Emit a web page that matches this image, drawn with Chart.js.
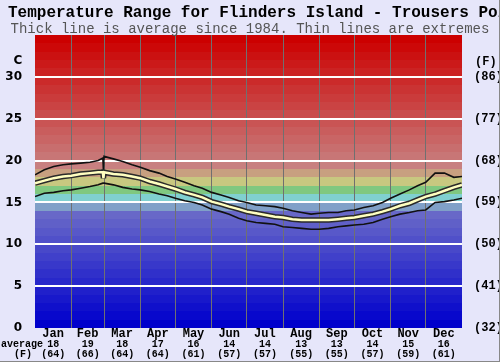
<!DOCTYPE html>
<html>
<head>
<meta charset="utf-8">
<script src="https://cdn.jsdelivr.net/npm/chart.js@4.4.1/dist/chart.umd.min.js"></script>
<style>
  html, body { margin: 0; padding: 0; background: #e6e6fa; }
  #wrap { position: relative; width: 500px; height: 362px; overflow: hidden; background: #e6e6fa;
          box-sizing: border-box; border-right: 1px solid #888; border-bottom: 1px solid #888; }
  #wrap canvas { position: absolute; left: 0; top: 0; }
  .title { position: absolute; left: 8px; top: 4px; line-height: 16px; white-space: nowrap;
           font: bold 16px "Liberation Mono", monospace; color: #000; }
  .sub { position: absolute; left: 0; width: 500px; top: 21px; line-height: 14px; text-align: center;
         white-space: nowrap; font: 14px "Liberation Mono", monospace; color: #555; }
</style>
</head>
<body>
<div id="wrap">
  <canvas id="chart" width="500" height="362"></canvas>
  <div class="title">Temperature Range for Flinders Island - Trousers Point</div>
  <div class="sub">Thick line is average since 1984. Thin lines are extremes</div>
</div>
<script>
// day of year for each reading
const days = [0, 8, 16, 24, 31, 39, 47, 54, 58, 58.5, 59, 67, 75, 83, 90, 98, 106, 113, 120, 128,
  136, 143, 151, 159, 166, 174, 181, 189, 197, 205, 212, 220, 228, 236, 243, 251, 259, 266, 273,
  281, 289, 297, 304, 312, 320, 327, 334, 342, 350, 358, 365];

const maxTemp = [18.3, 18.9, 19.3, 19.5, 19.6, 19.7, 19.8, 20.0, 20.3, 18.8, 20.5, 20.2, 19.9, 19.5,
  19.2, 18.8, 18.5, 18.1, 17.8, 17.4, 17.0, 16.7, 16.2, 15.9, 15.6, 15.2, 15.0, 14.7, 14.6, 14.5,
  14.3, 14.0, 13.8, 13.6, 13.7, 13.8, 13.8, 14.0, 14.1, 14.4, 14.6, 15.0, 15.5, 16.0, 16.5, 17.0,
  17.4, 18.5, 18.5, 18.0, 18.1];

const avgTemp = [17.3, 17.6, 17.9, 18.1, 18.2, 18.4, 18.5, 18.6, 18.6, 17.9, 18.6, 18.4, 18.3, 18.1,
  17.9, 17.5, 17.2, 16.9, 16.6, 16.2, 15.9, 15.6, 15.1, 14.8, 14.5, 14.2, 13.9, 13.7, 13.5, 13.3,
  13.2, 13.0, 12.9, 12.9, 12.9, 12.9, 13.0, 13.1, 13.2, 13.4, 13.6, 13.9, 14.2, 14.6, 14.9, 15.3,
  15.7, 16.0, 16.4, 16.8, 17.1];

const minTemp = [15.7, 16.1, 16.2, 16.4, 16.5, 16.7, 16.9, 17.1, 17.3, 17.3, 17.3, 17.1, 16.8, 16.6,
  16.5, 16.3, 16.0, 15.8, 15.5, 15.2, 15.0, 14.7, 14.2, 13.9, 13.6, 13.1, 12.8, 12.6, 12.5, 12.4,
  12.1, 12.0, 11.9, 11.8, 11.8, 11.9, 12.1, 12.2, 12.3, 12.4, 12.6, 13.0, 13.3, 13.6, 13.8, 14.0,
  14.1, 15.0, 15.1, 15.3, 15.5];

const monthStarts = [0, 31, 59, 90, 120, 151, 181, 212, 243, 273, 304, 334, 365];
const months = ["Jan", "Feb", "Mar", "Apr", "May", "Jun", "Jul", "Aug", "Sep", "Oct", "Nov", "Dec"];
const monthAvgC = [18, 19, 18, 17, 16, 14, 14, 13, 13, 14, 15, 16];
const monthAvgF = [64, 66, 64, 64, 61, 57, 57, 55, 55, 57, 59, 61];

const cTicks = [0, 5, 10, 15, 20, 25, 30];
const fTicks = ["(32)", "(41)", "(50)", "(59)", "(68)", "(77)", "(86)"];

const pts = (vals) => days.map((d, i) => ({ x: d, y: vals[i] }));

// one colour band per degree, blue at the bottom to red at the top
function bandColor(d) {
  const fixed = { 14: "#80a0c8", 15: "#80d0d0", 16: "#80c880", 17: "#c8c880", 18: "#c8a080", 19: "#c88080" };
  if (fixed[d]) return fixed[d];
  if (d >= 20) {
    const k = (d - 20) / 14;
    const g = Math.round(118 * (1 - k));
    return "rgb(" + Math.round(200 + 4 * k) + "," + g + "," + g + ")";
  }
  const k = d / 13;
  const v = Math.round(104 * k);
  return "rgb(" + v + "," + v + "," + Math.round(204 - 4 * k) + ")";
}

const bands = {
  id: "bands",
  beforeDraw(chart) {
    const { ctx, chartArea: a, scales: { y } } = chart;
    ctx.save();
    for (let d = 0; d < 35; d++) {
      const top = Math.round(y.getPixelForValue(d + 1));
      const bot = Math.round(y.getPixelForValue(d));
      ctx.fillStyle = bandColor(d);
      ctx.fillRect(a.left, top, a.right - a.left, bot - top);
    }
    ctx.restore();
  },
};

const labels = {
  id: "labels",
  afterDraw(chart) {
    const { ctx, scales: { x } } = chart;
    ctx.save();
    ctx.fillStyle = "#000";
    ctx.textAlign = "center";
    ctx.textBaseline = "middle";
    months.forEach((m, i) => {
      const cx = x.getPixelForValue((monthStarts[i] + monthStarts[i + 1]) / 2);
      ctx.font = "bold 12px 'Liberation Mono', monospace";
      ctx.fillText(m, cx, 334);
      ctx.font = "bold 10px 'Liberation Mono', monospace";
      ctx.fillText(String(monthAvgC[i]), cx, 344);
      ctx.fillText("(" + monthAvgF[i] + ")", cx, 354);
    });
    ctx.font = "bold 10px 'Liberation Mono', monospace";
    ctx.fillText("average", 22, 344);
    ctx.fillText("(F)", 23, 354);
    ctx.font = "bold 12px 'DejaVu Sans', sans-serif";
    ctx.fillText("C", 18, 61);
    ctx.font = "bold 12px 'Liberation Mono', monospace";
    ctx.textAlign = "left";
    ctx.fillText("(F)", 475, 62);
    ctx.restore();
  },
};

new Chart(document.getElementById("chart"), {
  type: "line",
  data: {
    datasets: [
      { data: pts(avgTemp), borderColor: "#ffffc0", borderWidth: 2.5 },
      { data: pts(avgTemp), borderColor: "#2a2a2a", borderWidth: 5.5 },
      { data: pts(maxTemp), borderColor: "#111", borderWidth: 1.6 },
      { data: pts(minTemp), borderColor: "#111", borderWidth: 1.6 },
    ],
  },
  options: {
    responsive: false,
    animation: false,
    events: [],
    layout: { padding: { top: 35, left: 0, right: 0, bottom: 0 } },
    elements: { point: { radius: 0 }, line: { tension: 0 } },
    plugins: { legend: { display: false }, tooltip: { enabled: false } },
    scales: {
      x: {
        type: "linear",
        min: 0,
        max: 365,
        afterBuildTicks: (s) => { s.ticks = monthStarts.map((v) => ({ value: v })); },
        afterFit: (s) => { s.height = 34; },
        ticks: { display: false },
        border: { display: false },
        grid: {
          drawTicks: false,
          lineWidth: 1,
          color: (c) => (c.tick && (c.tick.value === 0 || c.tick.value === 365) ? "rgba(0,0,0,0)" : "#707070"),
        },
      },
      y: {
        min: 0,
        max: 35,
        afterBuildTicks: (s) => { s.ticks = cTicks.map((v) => ({ value: v })); },
        afterFit: (s) => { s.width = 35; },
        ticks: { color: "#000", padding: 13, font: { family: "DejaVu Sans", size: 12, weight: "bold" } },
        border: { display: false },
        grid: {
          drawTicks: false,
          lineWidth: 2,
          color: (c) => (c.tick && c.tick.value === 0 ? "rgba(0,0,0,0)" : "#ffffff"),
        },
      },
      y2: {
        position: "right",
        min: 0,
        max: 35,
        afterBuildTicks: (s) => { s.ticks = cTicks.map((v) => ({ value: v })); },
        afterFit: (s) => { s.width = 38; },
        ticks: {
          color: "#000",
          padding: 4,
          font: { family: "Liberation Mono", size: 12, weight: "bold" },
          callback: (v, i) => fTicks[i],
        },
        border: { display: false },
        grid: { display: false },
      },
    },
  },
  plugins: [bands, labels],
});
</script>
</body>
</html>
